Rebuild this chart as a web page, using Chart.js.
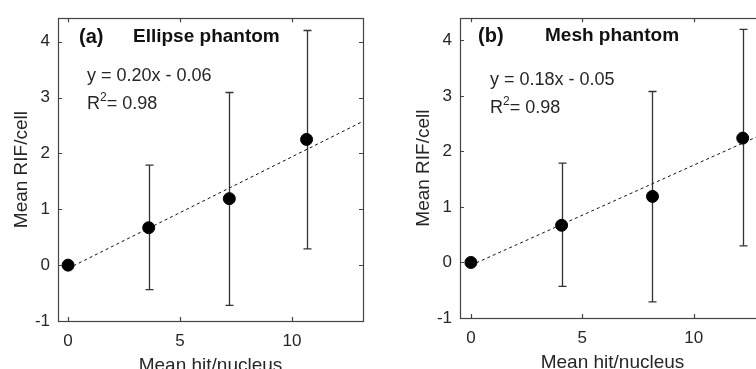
<!DOCTYPE html>
<html>
<head>
<meta charset="utf-8">
<script src="https://cdn.jsdelivr.net/npm/chart.js@4.4.1/dist/chart.umd.min.js"></script>
<style>
  html, body { margin: 0; padding: 0; background: #fff; overflow: hidden; width: 756px; height: 369px; }
  canvas { position: absolute; top: 0; }
  #chartA { left: 0; }
  #chartB { left: 380px; }
</style>
</head>
<body>
<canvas id="chartA" width="380" height="380"></canvas>
<canvas id="chartB" width="400" height="380"></canvas>
<script>
// (a) Ellipse phantom
const hitA = [0, 3.6, 7.2, 10.65];
const rifA = [0, 0.67, 1.19, 2.25];
const errHiA = [0, 1.79, 3.09, 4.2];
const errLoA = [0, -0.44, -0.72, 0.29];
const fitXA = [0, 13.2];
const fitYA = [-0.06, 2.58];

// (b) Mesh phantom
const hitB = [0, 4.07, 8.15, 12.2];
const rifB = [0, 0.67, 1.19, 2.24];
const errHiB = [0, 1.79, 3.08, 4.2];
const errLoB = [0, -0.43, -0.71, 0.30];
const fitXB = [0, 13.2];
const fitYB = [-0.05, 2.33];

const xTicks = [0, 5, 10];
const yTicks = [-1, 0, 1, 2, 3, 4];

const FONT = '"Liberation Sans", Arial, sans-serif';
const INK = '#262626';

// error bars under the markers
const errorBars = {
    id: 'errorBars',
    beforeDatasetsDraw(chart, args, opts) {
        const { ctx, scales: { x, y } } = chart;
        ctx.save();
        ctx.strokeStyle = '#333';
        ctx.lineWidth = 1.3;
        opts.xs.forEach((v, i) => {
            if (opts.hi[i] === opts.lo[i]) return;
            const px = Math.round(x.getPixelForValue(v)) + 0.5;
            const top = y.getPixelForValue(opts.hi[i]);
            const bot = y.getPixelForValue(opts.lo[i]);
            ctx.beginPath();
            ctx.moveTo(px, top); ctx.lineTo(px, bot);
            ctx.moveTo(px - 4, top); ctx.lineTo(px + 4, top);
            ctx.moveTo(px - 4, bot); ctx.lineTo(px + 4, bot);
            ctx.stroke();
        });
        ctx.restore();
    }
};

// box frame with inward ticks on all sides, plus panel text
const frame = {
    id: 'frame',
    afterDraw(chart, args, opts) {
        const { ctx, chartArea: a, scales: { x, y } } = chart;
        ctx.save();
        ctx.strokeStyle = '#444';
        ctx.lineWidth = 1.2;
        ctx.strokeRect(Math.round(a.left) + 0.5, Math.round(a.top) + 0.5,
            Math.round(a.right - a.left), Math.round(a.bottom - a.top));
        ctx.beginPath();
        xTicks.forEach(v => {
            const px = Math.round(x.getPixelForValue(v)) + 0.5;
            ctx.moveTo(px, a.bottom); ctx.lineTo(px, a.bottom - 4);
            ctx.moveTo(px, a.top); ctx.lineTo(px, a.top + 4);
        });
        yTicks.forEach(v => {
            const py = Math.round(y.getPixelForValue(v)) + 0.5;
            ctx.moveTo(a.left, py); ctx.lineTo(a.left + 4, py);
            ctx.moveTo(a.right, py); ctx.lineTo(a.right - 4, py);
        });
        ctx.stroke();

        ctx.fillStyle = '#111';
        ctx.textBaseline = 'middle';
        ctx.textAlign = 'left';
        const t = opts.text;
        ctx.font = 'bold 20px ' + FONT;
        ctx.fillText(t.tag, a.left + t.tagX, a.top + t.titleY);
        ctx.font = 'bold 19px ' + FONT;
        ctx.fillText(t.title, a.left + t.titleX, a.top + t.titleY);
        ctx.fillStyle = INK;
        ctx.font = '18px ' + FONT;
        ctx.fillText(t.eq, a.left + t.eqX, a.top + t.eqY);
        let rx = a.left + t.eqX;
        const ry = a.top + t.r2Y;
        ctx.fillText('R', rx, ry);
        rx += ctx.measureText('R').width;
        ctx.font = '12px ' + FONT;
        ctx.fillText('2', rx, ry - 7);
        rx += ctx.measureText('2').width;
        ctx.font = '18px ' + FONT;
        ctx.fillText(t.r2, rx, ry);
        ctx.restore();
    }
};

function makePanel(id, xs, ys, hi, lo, fx, fy, lim, text) {
    new Chart(document.getElementById(id), {
        type: 'scatter',
        data: {
            datasets: [
                {
                    data: xs.map((v, i) => ({ x: v, y: ys[i] })),
                    backgroundColor: '#000',
                    borderColor: '#000',
                    pointRadius: 6,
                    order: 0
                },
                {
                    data: fx.map((v, i) => ({ x: v, y: fy[i] })),
                    showLine: true,
                    borderColor: '#111',
                    borderWidth: 1,
                    borderDash: [3, 3],
                    pointRadius: 0,
                    order: 1
                }
            ]
        },
        options: {
            responsive: false,
            animation: false,
            layout: { padding: { left: lim.padLeft, top: lim.top, right: lim.padRight, bottom: 0 } },
            plugins: {
                legend: { display: false },
                tooltip: { enabled: false },
                errorBars: { xs: xs, hi: hi, lo: lo },
                frame: { text: text }
            },
            scales: {
                x: {
                    type: 'linear',
                    min: lim.xmin, max: lim.xmax,
                    afterBuildTicks: s => { s.ticks = xTicks.map(v => ({ value: v })); },
                    afterFit: s => { s.height = lim.xAxisH; },
                    grid: { display: false, drawTicks: false },
                    border: { display: false },
                    ticks: { color: INK, font: { family: FONT, size: 17 }, padding: 10 },
                    title: { display: true, text: 'Mean hit/nucleus', color: INK,
                        font: { family: FONT, size: 19 }, padding: { top: 0, bottom: lim.titlePad } }
                },
                y: {
                    type: 'linear',
                    min: -1, max: lim.ymax,
                    afterBuildTicks: s => { s.ticks = yTicks.map(v => ({ value: v })); },
                    afterFit: s => { s.width = 58; },
                    grid: { display: false, drawTicks: false },
                    border: { display: false },
                    ticks: { color: INK, font: { family: FONT, size: 17 }, padding: 8 },
                    title: { display: true, text: 'Mean RIF/cell', color: INK,
                        font: { family: FONT, size: 19 }, padding: { top: 10, bottom: 0 } }
                }
            }
        },
        plugins: [errorBars, frame]
    });
}

makePanel('chartA', hitA, rifA, errHiA, errLoA, fitXA, fitYA,
    { xmin: -0.45, xmax: 13.17, ymax: 4.42, top: 13, padLeft: 0, padRight: 17, xAxisH: 59, titlePad: 3 },
    { tag: '(a)', title: 'Ellipse phantom', eq: 'y = 0.20x - 0.06', r2: '= 0.98',
      tagX: 21, titleX: 75, titleY: 19, eqX: 29, eqY: 58, r2Y: 86 });

makePanel('chartB', hitB, rifB, errHiB, errLoB, fitXB, fitYB,
    { xmin: -0.49, xmax: 13.2, ymax: 4.4, top: 13, padLeft: 22, padRight: 15, xAxisH: 62, titlePad: 6 },
    { tag: '(b)', title: 'Mesh phantom', eq: 'y = 0.18x - 0.05', r2: '= 0.98',
      tagX: 18, titleX: 85, titleY: 18, eqX: 30, eqY: 62, r2Y: 90 });
</script>
</body>
</html>
